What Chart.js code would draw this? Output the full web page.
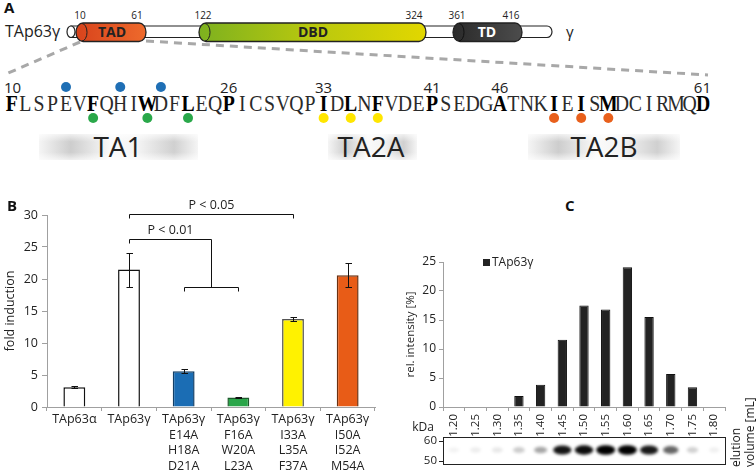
<!DOCTYPE html>
<html><head><meta charset="utf-8">
<script src="https://cdn.jsdelivr.net/npm/chart.js@4.4.1/dist/chart.umd.min.js"></script>
<style>
html,body{margin:0;padding:0;background:#fff;}
#wrap{position:relative;width:756px;height:470px;overflow:hidden;font-family:"Open Sans",sans-serif;color:#222;}
#svgA{position:absolute;left:0;top:0;}
#cB{position:absolute;left:0;top:190px;}
#cC{position:absolute;left:395px;top:235px;}
.plbl{position:absolute;font-weight:bold;font-size:15px;line-height:15px;color:#111;}
#elu{position:absolute;left:729px;top:467px;transform-origin:0 0;transform:rotate(-90deg);font-size:12px;line-height:14px;white-space:nowrap;color:#222;}
</style></head><body>
<div id="wrap">
<svg id="svgA" width="756" height="170" xmlns="http://www.w3.org/2000/svg" font-family="Open Sans, sans-serif">
<defs>
 <linearGradient id="gTAD" x1="0" x2="1"><stop offset="0" stop-color="#d8431c"/><stop offset="1" stop-color="#ee6a2c"/></linearGradient>
 <linearGradient id="gDBD" x1="0" x2="1"><stop offset="0" stop-color="#7db11f"/><stop offset="0.5" stop-color="#b9c80e"/><stop offset="1" stop-color="#e2d700"/></linearGradient>
 <linearGradient id="gTD" x1="0" x2="1"><stop offset="0" stop-color="#2a2a2a"/><stop offset="1" stop-color="#4c4c4c"/></linearGradient>
 <linearGradient id="gBox" x1="0" x2="1"><stop offset="0" stop-color="#f5f5f5"/><stop offset="0.2" stop-color="#cdcdcd"/><stop offset="0.45" stop-color="#fafafa"/><stop offset="0.62" stop-color="#f4f4f4"/><stop offset="0.85" stop-color="#d0d0d0"/><stop offset="1" stop-color="#f5f5f5"/></linearGradient>
 <linearGradient id="gBoxV" x1="0" y1="0" x2="0" y2="1"><stop offset="0" stop-color="#fff" stop-opacity="0.7"/><stop offset="0.3" stop-color="#fff" stop-opacity="0"/><stop offset="0.7" stop-color="#fff" stop-opacity="0"/><stop offset="1" stop-color="#fff" stop-opacity="0.7"/></linearGradient>
</defs>
<text x="4" y="13" font-weight="bold" font-size="15" fill="#111">A</text>
<text x="5" y="37" font-size="16" fill="#222">TAp63γ</text>
<line x1="80" y1="42" x2="6" y2="74" stroke="#a8a8a8" stroke-width="3" stroke-dasharray="8 6"/>
<line x1="146" y1="41" x2="708" y2="75" stroke="#a8a8a8" stroke-width="3" stroke-dasharray="8 6"/>
<path d="M71 26 H547 A5 5.75 0 0 1 547 37.5 H71 Z" fill="#fff" stroke="#222" stroke-width="1.2"/>
<ellipse cx="71" cy="31.75" rx="4" ry="5.75" fill="#fff" stroke="#222" stroke-width="1.2"/>
<rect x="76" y="23" width="70" height="18.5" rx="7" ry="9.25" fill="url(#gTAD)" stroke="#222" stroke-width="1.3"/>
<path d="M82 23.5 A5 8.75 0 0 1 82 41" fill="none" stroke="#222" stroke-width="1"/>
<rect x="199" y="23" width="227" height="18.5" rx="7" ry="9.25" fill="url(#gDBD)" stroke="#222" stroke-width="1.3"/>
<path d="M205 23.5 A5 8.75 0 0 1 205 41" fill="none" stroke="#222" stroke-width="1"/>
<rect x="453" y="23" width="69" height="18.5" rx="7" ry="9.25" fill="url(#gTD)" stroke="#222" stroke-width="1.3"/>
<path d="M459 23.5 A5 8.75 0 0 1 459 41" fill="none" stroke="#111" stroke-width="1"/>
<text x="112" y="37" text-anchor="middle" font-weight="bold" font-size="14" fill="#222">TAD</text>
<text x="313" y="37" text-anchor="middle" font-weight="bold" font-size="14" fill="#222">DBD</text>
<text x="487" y="37" text-anchor="middle" font-weight="bold" font-size="14" fill="#fff">TD</text>
<g font-size="10" fill="#222" text-anchor="middle">
<text x="80" y="19">10</text><text x="137" y="19">61</text><text x="203" y="19">122</text>
<text x="414" y="19">324</text><text x="457" y="19">361</text><text x="511" y="19">416</text>
</g>
<text x="566" y="37" font-size="15" fill="#222">γ</text>
<g id="motifs"></g>
<g id="seq"></g>
</svg>
<canvas id="cB" width="380" height="280"></canvas>
<canvas id="cC" width="361" height="235"></canvas>
<div class="plbl" style="left:7px;top:198px">B</div>
<div class="plbl" style="left:565px;top:198px">C</div>
<div id="elu">elution<br>volume [mL]</div>
</div>
<script>
// ---------- Panel A data ----------
const seqStart = 10;
const sequence = 'FLSPEVFQHIWDFLEQPICSVQPIDLNFVDEPSEDGATNKIEISMDCIRMQD';
const boldResidues = [10,16,20,23,26,33,35,37,41,46,50,52,54,61];
const numberedResidues = [10,26,33,41,46,61];
const dotsAboveBlue = [14,18,21];
const dotsBelowGreen = [16,20,23];
const dotsBelowYellow = [33,35,37];
const dotsBelowOrange = [50,52,54];
const motifNames = ['TA1','TA2A','TA2B'];

// ---------- Panel B data ----------
const bCategories = [['TAp63α'],['TAp63γ'],['TAp63γ','E14A','H18A','D21A'],['TAp63γ','F16A','W20A','L23A'],['TAp63γ','I33A','L35A','F37A'],['TAp63γ','I50A','I52A','M54A']];
const foldInduction = [3.08, 21.5, 5.6, 1.48, 13.75, 20.6];
const foldErrLow  = [2.95, 18.8, 5.3, 1.44, 13.5, 18.8];
const foldErrHigh = [3.22, 24.1, 5.9, 1.52, 14.0, 22.45];
const bFill   = ['#ffffff','#ffffff','#1b6db4','#2aa64a','#fff200','#e85c17'];
const bBorder = ['#111111','#111111','#123f66','#1d5a2c','#555555','#6b3010'];
const sigBrackets = [
  {label:'P < 0.01', left:1, right:2.5, top:26.3, leftEnd:25.6, rightEnd:18.75},
  {label:'P < 0.05', left:1, right:4,   top:30.1, leftEnd:29.5, rightEnd:29.5}
];
const groupBracket = {left:2, right:3, top:18.75, end:18.1};

// ---------- Panel C data ----------
const fractions = ['1.20','1.25','1.30','1.35','1.40','1.45','1.50','1.55','1.60','1.65','1.70','1.75','1.80'];
const relIntensity = [0,0,0,1.9,3.85,11.6,17.5,16.8,24.1,15.5,5.7,3.4,0];
const blotIntensity = [0.05,0.07,0.09,0.2,0.35,0.92,0.95,1,1,0.9,0.6,0.18,0.06];
const kDaMarks = ['60','50'];

// ---------- Panel A drawing ----------
const NS = 'http://www.w3.org/2000/svg';
function el(parent, tag, attrs, text){ const e=document.createElementNS(NS,tag); for(const k in attrs) e.setAttribute(k,attrs[k]); if(text!==undefined) e.textContent=text; parent.appendChild(e); return e; }
const seqG = document.getElementById('seq');
const motG = document.getElementById('motifs');
const seqLeft = 5, seqRight = 710;
const pitch = (seqRight - seqLeft) / sequence.length;
const cxRes = r => seqLeft + (r - seqStart + 0.5) * pitch;
const motifBoxes = [[39,198,118],[328,417,371],[528,680,604]];
motifNames.forEach((n,i)=>{
  const [a,b,c] = motifBoxes[i];
  el(motG,'rect',{x:a,y:134,width:b-a,height:26,fill:'url(#gBox)'});
  el(motG,'rect',{x:a,y:134,width:b-a,height:26,fill:'url(#gBoxV)'});
  el(motG,'text',{x:c,y:157,'text-anchor':'middle','font-size':28,fill:'#222'},n);
});
sequence.split('').forEach((ch,i)=>{
  const r = seqStart + i, b = boldResidues.includes(r);
  el(seqG,'text',{transform:'translate('+cxRes(r).toFixed(2)+',110.5) scale(0.86,1)','text-anchor':'middle','font-family':'Liberation Serif, Times New Roman, serif','font-size':23,'font-weight':b?'bold':'normal',fill:b?'#000':'#2a2a2a'},ch);
});
numberedResidues.forEach(r=>{
  let anchor='middle', x=cxRes(r);
  if(r===seqStart){anchor='start'; x=seqLeft-1;}
  if(r===seqStart+sequence.length-1){anchor='end'; x=seqRight+1;}
  el(seqG,'text',{x:x,y:93,'text-anchor':anchor,'font-size':15,fill:'#222'},String(r));
});
const dot=(r,y,c)=>el(seqG,'ellipse',{cx:cxRes(r),cy:y,rx:5,ry:5,fill:c});
dotsAboveBlue.forEach(r=>dot(r,87,'#1f6fb5'));
dotsBelowGreen.forEach(r=>dot(r,118,'#2aa84a'));
dotsBelowYellow.forEach(r=>dot(r,118,'#ffe600'));
dotsBelowOrange.forEach(r=>dot(r,118,'#e8601c'));

// ---------- Panel B chart ----------
const FONT = 'Open Sans';
const errorBarPlugin = {id:'errbars', afterDatasetsDraw(chart){
  const {ctx, scales:{x,y}} = chart; ctx.save(); ctx.strokeStyle='#111'; ctx.lineWidth=1;
  foldInduction.forEach((v,i)=>{
    const px=Math.round(x.getPixelForValue(i))+0.5;
    const lo=Math.round(y.getPixelForValue(foldErrLow[i]))+0.5, hi=Math.round(y.getPixelForValue(foldErrHigh[i]))+0.5;
    ctx.beginPath(); ctx.moveTo(px,lo); ctx.lineTo(px,hi);
    ctx.moveTo(px-3,lo); ctx.lineTo(px+3.5,lo); ctx.moveTo(px-3,hi); ctx.lineTo(px+3.5,hi); ctx.stroke();
  }); ctx.restore();
}};
const bracketPlugin = {id:'brackets', afterDraw(chart){
  const {ctx, scales:{x,y}} = chart; ctx.save(); ctx.strokeStyle='#111'; ctx.lineWidth=1; ctx.fillStyle='#222';
  ctx.font = '12.5px "'+FONT+'"'; ctx.textAlign='center'; ctx.textBaseline='bottom';
  const X=v=>Math.round(x.getPixelForValue(v))+0.5, Y=v=>Math.round(y.getPixelForValue(v))+0.5;
  sigBrackets.forEach(b=>{
    ctx.beginPath(); ctx.moveTo(X(b.left),Y(b.leftEnd)); ctx.lineTo(X(b.left),Y(b.top)); ctx.lineTo(X(b.right),Y(b.top)); ctx.lineTo(X(b.right),Y(b.rightEnd)); ctx.stroke();
    ctx.fillText(b.label,(X(b.left)+X(b.right))/2,Y(b.top)-3);
  });
  const g=groupBracket; ctx.beginPath(); ctx.moveTo(X(g.left),Y(g.end)); ctx.lineTo(X(g.left),Y(g.top)); ctx.lineTo(X(g.right),Y(g.top)); ctx.lineTo(X(g.right),Y(g.end)); ctx.stroke();
  ctx.restore();
}};
new Chart(document.getElementById('cB'),{
  type:'bar',
  data:{labels:bCategories, datasets:[{label:'fold induction', data:foldInduction, backgroundColor:bFill, borderColor:bBorder, borderWidth:1.5, barPercentage:0.4, categoryPercentage:1}]},
  options:{responsive:false, animation:false, devicePixelRatio:1,
    layout:{padding:{top:25,right:5,left:0,bottom:0}},
    plugins:{legend:{display:false}, tooltip:{enabled:false}},
    scales:{
      x:{grid:{display:true,drawOnChartArea:false,drawTicks:true,tickLength:4,color:'#a0a0a0',offset:true},
         border:{color:'#a0a0a0'},
         ticks:{color:'#222',font:{family:FONT,size:12.5,lineHeight:'15.5px'},padding:1,maxRotation:0,autoSkip:false},
         afterFit(s){s.height=63;}},
      y:{min:0,max:30,ticks:{stepSize:5,color:'#222',font:{family:FONT,size:12.5},padding:4},
         grid:{drawOnChartArea:false,tickLength:5,color:'#a0a0a0'}, border:{color:'#a0a0a0'},
         title:{display:true,text:'fold induction',color:'#222',font:{family:FONT,size:12.5},padding:{top:3,bottom:0}},
         afterFit(s){s.width=47;}}
    }},
  plugins:[errorBarPlugin, bracketPlugin]
});

// ---------- Panel C chart ----------
const legendPlugin = {id:'legendC', afterDraw(chart){
  const {ctx, chartArea:a} = chart; const ds=chart.data.datasets[0];
  ctx.save(); ctx.fillStyle=ds.backgroundColor; ctx.fillRect(a.left+40,a.top-3,7,7);
  ctx.fillStyle='#222'; ctx.font='12px "'+FONT+'"'; ctx.textBaseline='middle'; ctx.textAlign='left';
  ctx.fillText(ds.label,a.left+49,a.top+0.5); ctx.restore();
}};
const blotPlugin = {id:'blot', afterDraw(chart){
  const {ctx, scales:{x}, chartArea:a} = chart;
  const top=a.bottom+30, bot=a.bottom+57, mid=a.bottom+43;
  ctx.save();
  ctx.filter='blur(1.6px)';
  blotIntensity.forEach((t,i)=>{
    const cx=x.getPixelForValue(i);
    ctx.fillStyle='rgba(0,0,0,'+Math.max(0.04,t)+')';
    ctx.beginPath(); ctx.ellipse(cx,mid,5+4.5*t,2.5+2.3*t,0,0,Math.PI*2); ctx.fill();
  });
  ctx.filter='none';
  ctx.strokeStyle='#222'; ctx.lineWidth=1;
  ctx.strokeRect(Math.round(a.left)+0.5, top+0.5, Math.round(a.right-a.left), bot-top);
  ctx.fillStyle='#222'; ctx.font='11.5px "'+FONT+'"'; ctx.textAlign='right'; ctx.textBaseline='middle';
  kDaMarks.forEach((m,k)=>{ const yy=top+4+k*20; ctx.fillText(m,a.left-6,yy); ctx.beginPath(); ctx.moveTo(a.left-4,yy+0.5); ctx.lineTo(a.left,yy+0.5); ctx.stroke(); });
  ctx.font='12px "'+FONT+'"'; ctx.textAlign='center'; ctx.fillText('kDa',a.left-20,a.bottom+21);
  ctx.restore();
}};
new Chart(document.getElementById('cC'),{
  type:'bar',
  data:{labels:fractions, datasets:[{label:'TAp63γ', data:relIntensity, backgroundColor:'#232323', borderColor:'#111', borderWidth:1, barPercentage:0.43, categoryPercentage:1}]},
  options:{responsive:false, animation:false, devicePixelRatio:1,
    layout:{padding:{top:27,right:31,left:0,bottom:0}},
    plugins:{legend:{display:false}, tooltip:{enabled:false}},
    scales:{
      x:{grid:{display:true,drawOnChartArea:false,drawTicks:true,tickLength:4,color:'#a0a0a0',offset:true},
         border:{color:'#a0a0a0'},
         ticks:{color:'#222',font:{family:FONT,size:11.5},padding:3,minRotation:90,maxRotation:90,autoSkip:false},
         afterFit(s){s.height=63;}},
      y:{min:0,max:25,ticks:{stepSize:5,color:'#222',font:{family:FONT,size:12},padding:3},
         grid:{drawOnChartArea:false,tickLength:4,color:'#a0a0a0'}, border:{color:'#a0a0a0'},
         title:{display:true,text:'rel. intensity [%]',color:'#222',font:{family:FONT,size:11.5},padding:{top:9,bottom:0}},
         afterFit(s){s.width=48;}}
    }},
  plugins:[legendPlugin, blotPlugin]
});
</script>
</body></html>
